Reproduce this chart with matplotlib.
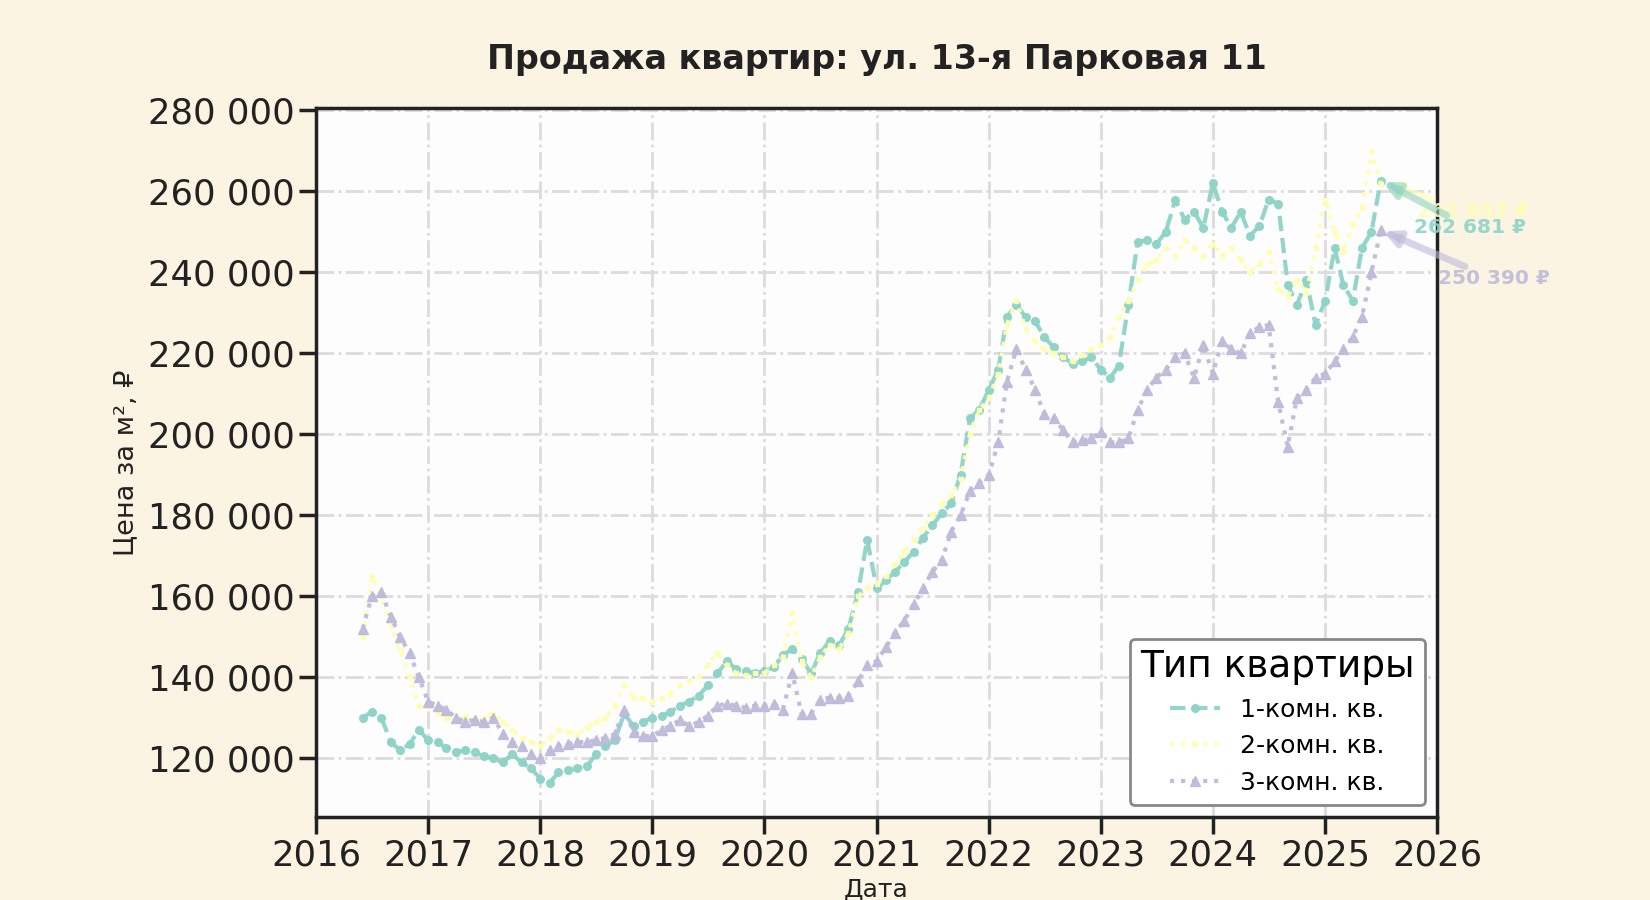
import numpy as np
import pandas as pd
import matplotlib
matplotlib.use('Agg')
import matplotlib.pyplot as plt
import matplotlib.dates as mdates
from matplotlib.ticker import FuncFormatter

# Data (thousand rub per m2, monthly, Jun 2016 - Jul 2025) -------------------
dates = pd.date_range('2016-06-01', periods=110, freq='MS')

price_1k = [
    130, 131.5, 130, 124, 122, 123.5, 127,
    124.5, 124, 122.5, 121.5, 122, 121.5, 120.5, 120, 119, 121, 119, 117.5,
    115, 114, 116.5, 117, 117.5, 118, 121, 123, 124.5, 131, 128, 129,
    130, 130.5, 131.5, 133, 134, 135.5, 138, 141, 144, 142, 141.5, 141,
    141.5, 142.5, 145.5, 147, 144.5, 141, 146, 149, 148, 152, 161, 174,
    162, 164, 166, 168.5, 171, 174.5, 177.5, 180.5, 183, 190, 204, 206,
    211, 216, 229, 232, 229, 228, 224, 221.5, 219, 217.5, 218, 219,
    216, 214, 217, 232, 247.5, 248, 247, 250, 258, 253, 255, 251,
    262, 255, 251, 255, 249, 251.5, 258, 257, 237, 232, 238, 227,
    233, 246, 237, 233, 246, 250, 262.681,
]
price_2k = [
    150, 165, 160, 153, 147, 140, 133,
    133, 131, 130, 129.5, 130.5, 129, 130, 131, 129, 127, 125, 124,
    123, 125, 127, 126.5, 126, 127.5, 129, 130, 133, 138, 135, 135,
    134, 135, 136, 138, 139, 140, 143, 146, 143, 141, 140.5, 141,
    141, 143, 145, 156, 144, 140, 145, 148, 147, 151, 160, 162,
    163, 165, 168, 171, 174, 177, 180, 183, 185, 189, 200, 206,
    209, 215, 227, 233, 226, 223, 221, 220, 219, 218, 219.5, 221,
    222, 224, 229, 233, 238, 242, 243, 246, 244, 248, 246, 244,
    247, 244, 246, 243, 240, 242, 245, 236, 234, 238, 235, 246,
    258, 250, 245, 252, 256, 270, 261.952,
]
price_3k = [
    152, 160, 161, 155, 150, 146, 140,
    134, 133, 132, 130, 129, 129.5, 129, 130, 126, 124, 123, 121,
    120, 122, 123, 123.5, 124, 124, 124.5, 125, 126, 132, 126.5, 125.5,
    125.5, 127, 128, 129.5, 128, 129, 130.5, 133, 133.5, 133, 132.5, 133,
    133, 133.5, 132, 141, 131, 131, 134.5, 135, 135, 135.5, 139, 143,
    144, 147.5, 151, 154, 158, 162, 166, 169, 176, 180, 186, 188,
    190, 198, 213, 221, 216, 211, 205, 204, 201, 198, 198.5, 199,
    200.5, 198, 198, 199, 206, 211, 214, 216, 219, 220, 214, 222,
    215, 223, 221, 220, 225, 226.5, 227, 208, 197, 209, 211, 214,
    215, 218, 221, 224, 229, 240, 250.39,
]

series = [
    ('1-комн. кв.', price_1k, '#8dd3c7', '--', 'o', 5.5, 24, -34),
    ('2-комн. кв.', price_2k, '#ffffb3', ':', 's', 3.5, 26, -20),
    ('3-комн. кв.', price_3k, '#bebada', ':', '^', 7, 41, -35),
]

# Figure ----------------------------------------------------------------------
fig = plt.figure(figsize=(16.5, 9), dpi=100, facecolor='#fbf4e2')
ax = fig.add_axes([0.1915, 0.0922, 0.6795, 0.7878])
ax.set_facecolor('#fdfdfd')

for name, vals, col, ls, mk, ms, dx, dy in series:
    y = np.array(vals) * 1000
    ax.plot(dates, y, linestyle=ls, marker=mk, markersize=ms, lw=3,
            color=col, label=name, alpha=0.95)

# end-of-series labels, drawn 2-room first so 1-room sits on top
for idx in [1, 0, 2]:
    name, vals, col, ls, mk, ms, dx, dy = series[idx]
    last = vals[-1] * 1000
    txt = f'{last:,.0f} ₽'.replace(',', ' ')
    ax.annotate(txt, xy=(dates[-1], last), xytext=(dx, dy),
                textcoords='offset points', ha='left', va='center',
                fontsize=14.5, fontweight='bold', color=col, alpha=0.9,
                arrowprops=dict(arrowstyle='-|>', color=col, lw=5, alpha=0.6,
                                shrinkA=0, shrinkB=2, mutation_scale=22))

ax.set_xlim(pd.Timestamp('2016-01-01'), pd.Timestamp('2026-01-01'))
ax.set_ylim(105500, 280600)
ax.xaxis.set_major_locator(mdates.YearLocator())
ax.xaxis.set_major_formatter(mdates.DateFormatter('%Y'))
ax.yaxis.set_major_formatter(FuncFormatter(lambda v, p: f'{v:,.0f}'.replace(',', ' ')))

ax.grid(True, linestyle='-.', color='#dcdcdc', lw=2)
ax.set_axisbelow(True)
for sp in ax.spines.values():
    sp.set_linewidth(2.5)
    sp.set_color('#222222')
ax.tick_params(axis='both', labelsize=25.5, length=12, width=2.5, color='#222222',
               labelcolor='#222222')

ax.set_title('Продажа квартир: ул. 13-я Парковая 11', fontsize=24,
             fontweight='bold', color='#222222', pad=28)
ax.set_xlabel('Дата', fontsize=18, color='#222222')
ax.set_ylabel('Цена за м², ₽', fontsize=19.5, color='#222222', labelpad=6)

leg = ax.legend(title='Тип квартиры', loc='lower right', fontsize=18,
                title_fontsize=27, frameon=True, facecolor='white',
                edgecolor='#888888', framealpha=1, borderaxespad=0.5,
                handlelength=2)
leg.get_frame().set_linewidth(2)

fig.savefig('out.png', dpi=100, facecolor=fig.get_facecolor())
